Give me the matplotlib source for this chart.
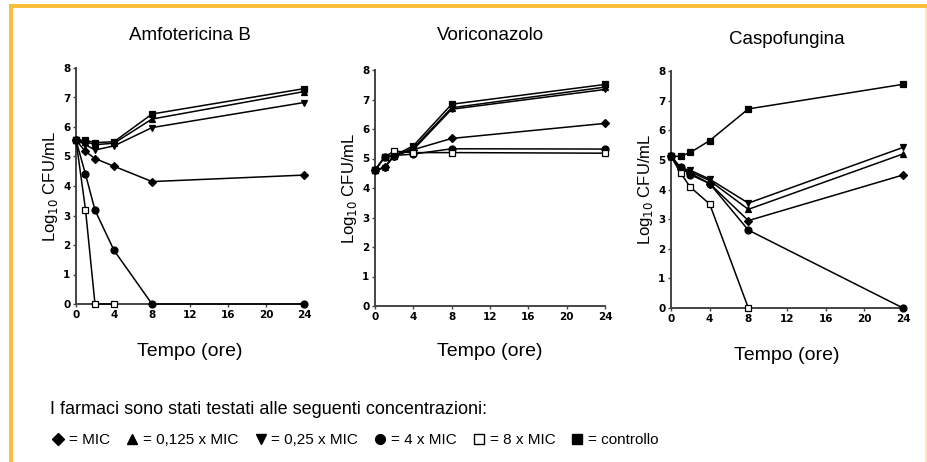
import matplotlib
matplotlib.use('Agg')
import matplotlib.pyplot as plt
from matplotlib.lines import Line2D
from matplotlib.patches import Rectangle

plt.rcParams['font.family'] = ['Liberation Sans', 'DejaVu Sans']

# --- dati (tempo in ore, Log10 CFU/mL) ---
tempo = [0, 1, 2, 4, 8, 24]
tempo_8x_amf = [0, 1, 2, 4]
tempo_8x_cas = [0, 1, 2, 4, 8]

amf_mic = [5.55, 5.17, 4.93, 4.67, 4.15, 4.37]
amf_0125 = [5.55, 5.50, 5.40, 5.45, 6.27, 7.20]
amf_025 = [5.55, 5.40, 5.22, 5.36, 5.98, 6.83]
amf_4x = [5.55, 4.40, 3.18, 1.82, 0.0, 0.0]
amf_8x = [5.55, 3.20, 0.0, 0.0]
amf_ctrl = [5.55, 5.55, 5.47, 5.50, 6.44, 7.30]

vor_mic = [4.60, 4.70, 5.10, 5.30, 5.68, 6.19]
vor_0125 = [4.60, 4.70, 5.10, 5.35, 6.72, 7.42]
vor_025 = [4.60, 4.68, 5.10, 5.30, 6.67, 7.34]
vor_4x = [4.60, 5.05, 5.10, 5.15, 5.33, 5.32]
vor_8x = [4.60, 5.05, 5.25, 5.20, 5.20, 5.18]
vor_ctrl = [4.60, 5.05, 5.10, 5.43, 6.84, 7.51]

cas_mic = [5.12, 4.70, 4.55, 4.20, 2.95, 4.49]
cas_0125 = [5.12, 4.68, 4.60, 4.30, 3.33, 5.20]
cas_025 = [5.12, 4.72, 4.65, 4.35, 3.54, 5.42]
cas_4x = [5.12, 4.75, 4.50, 4.20, 2.63, 0.0]
cas_8x = [5.12, 4.55, 4.08, 3.51, 0.0]
cas_ctrl = [5.12, 5.12, 5.25, 5.65, 6.72, 7.55]

titoli = ['Amfotericina B', 'Voriconazolo', 'Caspofungina']
xticks = [0, 4, 8, 12, 16, 20, 24]
yticks = list(range(0, 9))

# stile per concentrazione: (marker, riempimento, dimensione)
stili = {
    'mic': ('D', 'black', 4.0),
    '0125': ('^', 'black', 5.0),
    '025': ('v', 'black', 5.0),
    '4x': ('o', 'black', 5.0),
    '8x': ('s', 'white', 5.0),
    'ctrl': ('s', 'black', 5.0),
}
ordine = ['mic', '0125', '025', '4x', '8x', 'ctrl']
etichette = {
    'mic': '= MIC', '0125': '= 0,125 x MIC', '025': '= 0,25 x MIC',
    '4x': '= 4 x MIC', '8x': '= 8 x MIC', 'ctrl': '= controllo',
}

pannelli = [
    {'mic': (tempo, amf_mic), '0125': (tempo, amf_0125), '025': (tempo, amf_025),
     '4x': (tempo, amf_4x), '8x': (tempo_8x_amf, amf_8x), 'ctrl': (tempo, amf_ctrl)},
    {'mic': (tempo, vor_mic), '0125': (tempo, vor_0125), '025': (tempo, vor_025),
     '4x': (tempo, vor_4x), '8x': (tempo, vor_8x), 'ctrl': (tempo, vor_ctrl)},
    {'mic': (tempo, cas_mic), '0125': (tempo, cas_0125), '025': (tempo, cas_025),
     '4x': (tempo, cas_4x), '8x': (tempo_8x_cas, cas_8x), 'ctrl': (tempo, cas_ctrl)},
]

W, H = 928, 462
fig = plt.figure(figsize=(W / 100, H / 100), dpi=100)

# posizioni assi in pixel: (sinistra, destra, alto, basso)
box_px = [(76, 304, 68, 304), (375, 605, 70, 306), (671, 903, 71, 308)]
titolo_y = [35, 35, 40]
xlabel_y = [352, 352, 355]

for k, (l, r, t, b) in enumerate(box_px):
    ax = fig.add_axes([l / W, 1 - b / H, (r - l) / W, (b - t) / H])
    for key in ordine:
        x, y = pannelli[k][key]
        m, fc, ms = stili[key]
        ax.plot(x, y, color='black', lw=1.1, marker=m, markersize=ms,
                markerfacecolor=fc, markeredgecolor='black', markeredgewidth=0.9,
                clip_on=False, zorder=3)
    ax.set_xlim(0, 24)
    ax.set_ylim(0, 8)
    ax.set_xticks(xticks)
    ax.set_yticks(yticks)
    ax.spines['top'].set_visible(False)
    ax.spines['right'].set_visible(False)
    for s in ['left', 'bottom']:
        ax.spines[s].set_color('#444444')
        ax.spines[s].set_linewidth(1.4)
    ax.tick_params(direction='out', length=2.5, width=1, color='#444444',
                   labelsize=7.5, pad=1.5)
    for lab in ax.get_xticklabels() + ax.get_yticklabels():
        lab.set_fontweight('bold')
        lab.set_family('DejaVu Sans')
    ax.set_ylabel(r'Log$_{10}$ CFU/mL', fontsize=12, labelpad=2)
    cx = (l + r) / 2
    fig.text(cx / W, 1 - titolo_y[k] / H, titoli[k], ha='center', va='center', fontsize=13.5)
    fig.text(cx / W, 1 - xlabel_y[k] / H, 'Tempo (ore)', ha='center', va='center', fontsize=14)

# testo legenda
fig.text(50 / W, 1 - 410 / H, 'I farmaci sono stati testati alle seguenti concentrazioni:',
         ha='left', va='center', fontsize=13)
handles = []
for key in ordine:
    m, fc, ms = stili[key]
    handles.append(Line2D([], [], ls='none', marker=m, markersize=ms + 2,
                          markerfacecolor=fc, markeredgecolor='black'))
fig.legend(handles, [etichette[k] for k in ordine],
           loc='center left', bbox_to_anchor=(53 / W, 1 - 440 / H), ncol=6,
           frameon=False, fontsize=11, handlelength=0.7, handletextpad=0.35,
           columnspacing=1.1, borderpad=0, borderaxespad=0)

# cornice arancione
arancio = '#FDBD3C'
fig.add_artist(Rectangle((9 / W, 0), 4 / W, 1 - 4 / H, transform=fig.transFigure,
                         color=arancio, lw=0))
fig.add_artist(Rectangle((9 / W, 1 - 8 / H), 1, 4 / H, transform=fig.transFigure,
                         color=arancio, lw=0))
fig.add_artist(Rectangle((925 / W, 0), 2 / W, 1 - 8 / H, transform=fig.transFigure,
                         color='#FDE6B8', lw=0))

fig.savefig('out.png', dpi=100)
